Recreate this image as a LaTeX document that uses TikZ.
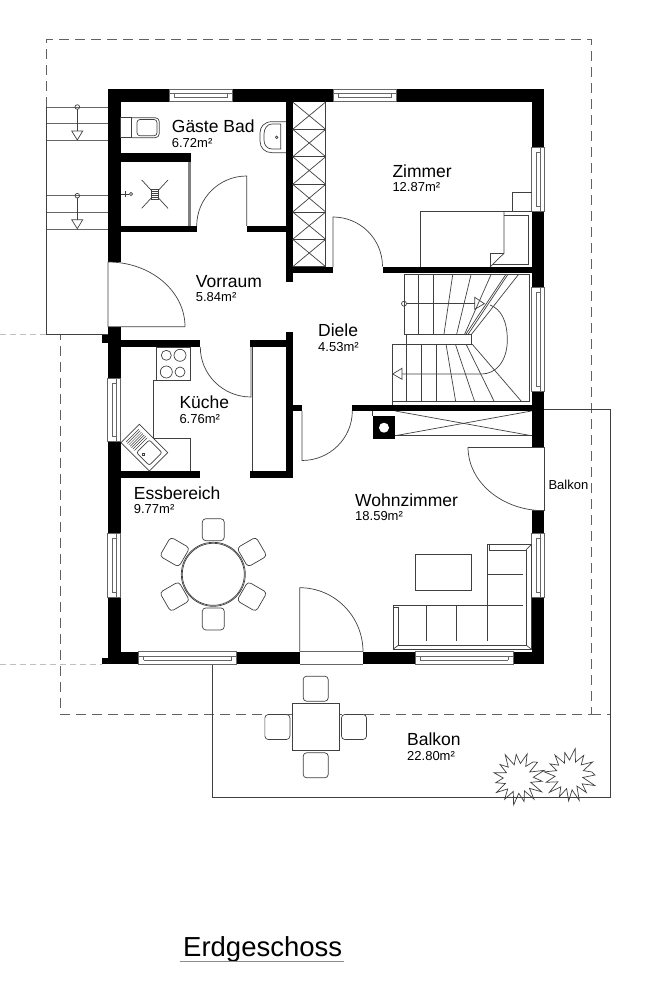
\documentclass[tikz,border=0pt]{standalone}
\usepackage{fontspec}
\setmainfont{Liberation Sans}
\tikzset{
	wall/.style={fill=black},
	thinline/.style={draw=black!75,line width=0.7pt},
	windowline/.style={draw=black!60,line width=0.6pt},
	dashline/.style={draw=black!62,line width=0.8pt,dash pattern=on 10pt off 6pt},
	faintdash/.style={draw=black!25,line width=0.7pt,dash pattern=on 6pt off 4pt},
	roomname/.style={inner sep=0,anchor=base west,font=\fontsize{17.5}{20}\selectfont},
	roomarea/.style={inner sep=0,anchor=base west,font=\fontsize{13}{15}\selectfont},
	stuhl/.pic={
		\draw[thinline,fill=white,rounded corners=3.5pt] (-11,11) -- (-11,-11) -- (11,-11) -- (11,11) -- cycle;
	},
	busch/.pic={
		\draw[thinline] (0:25) \foreach \a/\r in {11/13,23/27,36/15,47/24,58/13,70/27,82/15,93/26,104/14,116/24,128/15,140/27,151/14,163/25,175/15,187/26,198/14,209/23,221/15,233/25,245/13,257/23,268/15,281/27,293/14,305/24,318/15,330/26,342/14,352/22} {-- (\a:\r)} -- cycle;
	}
}
\begin{document}
\begin{tikzpicture}[x=1pt,y=-1pt]
	\useasboundingbox (0,0) rectangle (664,1000);

	% dashed roof outline
	\draw[dashline] (46.7,107) -- (46.7,39.5) -- (591.3,39.5) -- (591.3,714) -- (60.3,714) -- (60.3,334.5);
	\draw[dashline] (591.3,714) -- (610.7,714);
	\draw[faintdash] (0,334.5) -- (46.7,334.5);
	\draw[faintdash] (0,664) -- (102,664);

	% outside stair and balcony
	\draw[thinline] (46.7,107) -- (46.7,334.5) -- (108,334.5);
	\foreach \y in {107,123.7,140,195.7,212,229}
		\draw[windowline] (46.7,\y) -- (108,\y);
	\foreach \y in {107,195.7} {
		\draw[thinline] (77.3,\y) circle (2.3);
		\draw[thinline] (77.3,\y+2.3) -- (77.3,\y+24);
		\draw[thinline] (71.7,\y+24) -- (82.7,\y+24) -- (77.3,\y+33) -- cycle;
	}
	\draw[thinline] (212,664) -- (212,797) -- (610.7,797) -- (610.7,409) -- (544,409);

	% walls
	\foreach \xa/\ya/\xb/\yb in {108/89.3/169/102,232.3/89.3/333/102,396/89.3/544.3/102,
		108/89.3/120.7/261.7,108/326.7/120.7/378,102/335/108/343,107.5/441/120.7/533,107.5/597/120.7/664,102/658/108/664,
		107.5/651.7/138.7/664,236.7/651.7/299.7/664,363/651.7/415/664,513/651.7/544.3/664,
		531.5/89.3/544.3/147,531.5/211/544.3/287,531.5/391/544.3/447,531.5/510.7/544.3/533,531.5/597/544.3/664,
		286/102/292.7/281.7,286/267/333/273,382.5/267/531.5/273,
		120/153.3/191/162.3,120/226/196.7/232.3,246.7/226/286/232.3,
		120/340.3/200.3/347,250/340.3/286/347,286/331.7/292.7/477.7,120/471.3/200.3/477.7,250/471.3/286/477.7,
		292.7/404.7/302/411,352.3/404.7/531.5/411,372.7/416/395.3/438.7}
		\fill[wall] (\xa,\ya) rectangle (\xb,\yb);
	\fill[white] (384,427.7) circle (5);
	\draw[thinline] (372.7,411) -- (372.7,416);

	% windows
	\foreach \xa/\xb/\y in {169/232.3/89.3,333/396/89.3,138.7/236.7/651.7,415/513/651.7} {
		\draw[windowline] (\xa,\y) rectangle (\xb,\y+12.5);
		\draw[windowline] (\xa,\y+4.5) -- (\xb,\y+4.5);
		\draw[windowline] (\xa+5,\y+8.5) -- (\xb-5,\y+8.5);
		\draw[windowline] (\xa+5,\y+4.5) -- (\xa+5,\y+8.5);
		\draw[windowline] (\xb-5,\y+4.5) -- (\xb-5,\y+8.5);
	}
	\foreach \ya/\yb/\x in {147/211/531.5,287/391/531.5,533/597/531.5,378/441/107.5,533/597/107.5} {
		\draw[windowline] (\x,\ya) rectangle (\x+12.8,\yb);
		\draw[windowline] (\x+8.5,\ya) -- (\x+8.5,\yb);
		\draw[windowline] (\x+4.5,\ya+5) -- (\x+4.5,\yb-5);
		\draw[windowline] (\x+4.5,\ya+5) -- (\x+8.5,\ya+5);
		\draw[windowline] (\x+4.5,\yb-5) -- (\x+8.5,\yb-5);
	}

	% doors
	\draw[thinline] (246.7,226) -- (246.7,176) arc (-90:-180:50);
	\draw[thinline] (185,326.7) -- (108,326.7) -- (108,262) arc (-90:0:77 and 64.7);
	\draw[thinline] (333,267) -- (333,217) arc (-90:0:49.5);
	\draw[thinline] (251,347) -- (251,397) arc (90:180:50.7 and 50);
	\draw[thinline] (302,411) -- (302,460.5) arc (90:0:50.3 and 49.5);
	\draw[thinline] (299.7,651.7) -- (299.7,587.7) arc (-90:0:63.3 and 64);
	\draw[windowline] (299.7,664) -- (363,664);
	\draw[windowline] (299.7,651.7) -- (363,651.7);
	\draw[thinline] (468,447) -- (544.3,447) -- (544.3,510.7) -- (531.5,510.7);
	\draw[thinline] (468,447) arc (180:90:76.3 and 63.7);

	% shower, toilet, basin
	\fill[black!50] (187.7,162.3) rectangle (191,226);
	\draw[thinline] (141.7,180) -- (168,208.3);
	\draw[thinline] (168,180) -- (141.7,208.3);
	\draw[thinline,fill=white] (151.7,189.3) rectangle (158,199.3);
	\foreach \y in {191.3,193.3,195.3,197.3}
		\draw[thinline] (151.7,\y) -- (158,\y);
	\draw[thinline] (120.7,194) -- (129,194);
	\draw[thinline] (131,194) circle (1.7);
	\draw[thinline] (125,191) -- (125,197);
	\draw[thinline] (120.7,117.7) rectangle (131.7,137.7);
	\draw[thinline,rounded corners=4pt] (131.7,117.7) -- (159.3,117.7) -- (159.3,137.7) -- (131.7,137.7);
	\draw[thinline,rounded corners=3pt] (137,119.5) -- (157,119.5) -- (157,135.8) -- (137,135.8) -- cycle;
	\draw[thinline] (286,121.7) -- (272,121.7) .. controls (264,121.7) and (260,127) .. (260,133) -- (260,141) .. controls (260,148) and (265,152.7) .. (272,152.7) -- (286,152.7);
	\draw[thinline] (280.7,124) -- (272,124) .. controls (267,124) and (264,129) .. (264,134) -- (264,140) .. controls (264,145) and (267,149) .. (272,149) -- (280.7,149) -- cycle;
	\draw[thinline] (276.7,137.3) circle (1.3);

	% closet
	\draw[thinline] (325.7,102) -- (325.7,267);
	\foreach \ya/\yb in {102/129.3,129.3/156.7,156.7/184.3,184.3/212,212/239.3,239.3/266.7} {
		\draw[thinline] (292.7,\yb) -- (325.7,\yb);
		\draw[thinline] (292.7,\ya) -- (325.7,\yb);
		\draw[thinline] (325.7,\ya) -- (292.7,\yb);
	}

	% bed
	\draw[thinline] (420.7,267) -- (420.7,211.7) -- (531.5,211.7);
	\draw[thinline] (504,211.7) -- (504,253.3) -- (490,267);
	\draw[thinline] (490,267) -- (490,253.3) -- (504,253.3);
	\draw[thinline] (504,215) -- (528.3,215) -- (528.3,264) -- (493,264);
	\draw[thinline] (512,211.7) -- (512,192.3) -- (531.5,192.3);

	% inner stair
	\draw[thinline] (404,334) -- (404,274.7) -- (529.3,274.7) -- (529.3,401.7) -- (392.3,401.7) -- (392.3,344) -- (471,344) -- (471,334) -- (404,334);
	\draw[thinline] (406.7,334) -- (406.7,344);
	\draw[thinline] (392.3,401.7) -- (392.3,404.7);
	\foreach \x in {418.3,433.3}
		\draw[thinline] (\x,274.7) -- (\x,334);
	\foreach \xa/\xb in {452.7/444,471/456.7,491/464.7,505.7/466,507.7/468.3,518.3/471.7}
		\draw[thinline] (\xa,274.7) -- (\xb,334);
	\foreach \x in {406.7,421.3,436}
		\draw[thinline] (\x,344) -- (\x,401.7);
	\foreach \xa/\xb in {446/455.7,455.3/474.7,466/494.3,472/521.7}
		\draw[thinline] (\xa,344) -- (\xb,401.7);
	\draw[thinline] (404,303.7) circle (2.5);
	\draw[thinline] (406.5,303.7) -- (474.7,303.7);
	\draw[thinline] (474.7,297.3) -- (484.3,303.7) -- (474.7,309.3) -- cycle;
	\draw[thinline] (490,305) .. controls (501,309) and (507.3,321) .. (507.3,340) .. controls (507.3,361) and (496,374) .. (481.7,374) -- (402,374);
	\draw[thinline] (402,368.3) -- (392.7,374) -- (402,379.3) -- cycle;

	% shaft
	\draw[thinline] (395.3,411) -- (531.5,435.7);
	\draw[thinline] (395.3,435.7) -- (531.5,411);
	\draw[thinline] (395.3,435.7) -- (531.5,435.7);

	% kitchen
	\draw[thinline] (156.3,347) rectangle (190,380);
	\foreach \x/\y/\r in {166.3/355.3/5,180/355.3/6,166.3/372/6,180/372/5}
		\draw[thinline] (\x,\y) circle (\r);
	\draw[thinline] (156.3,380) -- (153.3,380) -- (153.3,438.3) -- (190,438.3) -- (190,471.3);
	\draw[thinline] (252.7,347) -- (252.7,471.3);
	\begin{scope}[shift={(121,442.7)},rotate=-45]
		\draw[thinline,fill=white] (0,0) rectangle (40,-26);
		\foreach \x in {3,5,...,15}
			\draw[thinline,line width=0.5pt] (\x,-4) -- (\x,-22);
		\draw[thinline,rounded corners=2pt] (18,-4) rectangle (36,-22);
		\draw[thinline] (24,-7.6) circle (1.4);
	\end{scope}

	% dining table
	\draw[thinline] (213.3,574.3) circle (32);
	\draw[thinline] (213.3,574.3) circle (31);
	\foreach \a in {0,60,...,300}
		\pic[shift={(213.3,574.3)},rotate=\a,yshift=44.6pt] {stuhl};

	% sofa
	\draw[thinline] (393,649.3) -- (393,605.3) -- (487.3,605.3) -- (487.3,544.3) -- (531.5,544.3) -- (531.5,649.3) -- cycle;
	\draw[thinline] (398.7,607.5) -- (398.7,645) -- (526,645) -- (526,550) -- (489.5,550) -- (489.5,544.3);
	\draw[thinline] (393,607.5) -- (398.7,607.5);
	\draw[thinline] (393,649.3) -- (398.7,645);
	\draw[thinline] (531.5,649.3) -- (526,645);
	\draw[thinline] (531.5,544.3) -- (526,550);
	\foreach \x in {426.3,456.7,487.3}
		\draw[thinline] (\x,605.3) -- (\x,641);
	\foreach \y in {574.3,605.3}
		\draw[thinline] (487.3,\y) -- (523,\y);
	\draw[thinline] (415.7,554.3) rectangle (471,590.3);

	% balcony table and plants
	\foreach \a in {0,90,180,270}
		\pic[shift={(315.7,727)},rotate=\a,yshift=38.3pt,scale=1.14] {stuhl};
	\draw[thinline,fill=white] (292,703.3) rectangle (339.3,750.7);
	\pic[shift={(570,775)}] {busch};
	\pic[shift={(518.3,778.3)},rotate=40] {busch};

	% labels
	\node[roomname] (gaeste) at (171.7,132.7) {Gäste Bad};
	\node[roomarea] (gaestearea) at ([yshift=-14.6pt]gaeste.base west) {6.72m²};
	\node[roomname] (zimmer) at (392.3,177.3) {Zimmer};
	\node[roomarea] (zimmerarea) at ([yshift=-14.4pt]zimmer.base west) {12.87m²};
	\node[roomname] (vorraum) at (195.7,287.3) {Vorraum};
	\node[roomarea] (vorraumarea) at ([yshift=-14.4pt]vorraum.base west) {5.84m²};
	\node[roomname] (diele) at (318,336.7) {Diele};
	\node[roomarea] (dielearea) at ([yshift=-15pt]diele.base west) {4.53m²};
	\node[roomname] (kueche) at (179.3,408.7) {Küche};
	\node[roomarea] (kuechearea) at ([yshift=-14.6pt]kueche.base west) {6.76m²};
	\node[roomname] (essen) at (133.7,499.3) {Essbereich};
	\node[roomarea] (essenarea) at ([yshift=-14pt]essen.base west) {9.77m²};
	\node[roomname] (wohnen) at (355,506) {Wohnzimmer};
	\node[roomarea] (wohnenarea) at ([yshift=-14pt]wohnen.base west) {18.59m²};
	\node[roomname] (balkon) at (407,745.7) {Balkon};
	\node[roomarea] (balkonarea) at ([yshift=-15pt]balkon.base west) {22.80m²};
	\node[roomarea] (balkontuer) at (548.3,489.3) {Balkon};
	\node[inner sep=0,anchor=base west,font=\fontsize{27.5}{30}\selectfont] (titel) at (183,956.7) {Erdgeschoss};
	\coordinate (titelende) at (344,961.7);
	\draw[black!45,line width=1pt] (180,961.7) -- (titelende);
\end{tikzpicture}
\end{document}
